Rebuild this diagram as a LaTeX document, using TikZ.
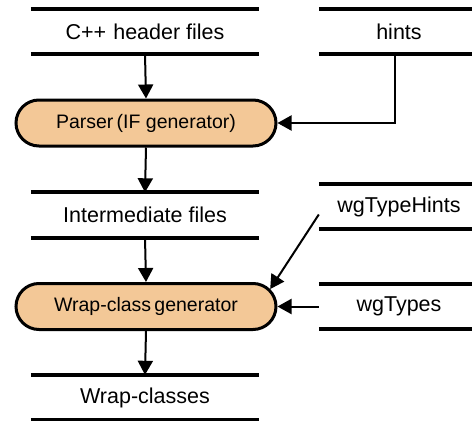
\documentclass[tikz,border=0pt]{standalone}
\usepackage{fontspec}
\setmainfont{Liberation Sans}
\usetikzlibrary{shapes.misc,arrows.meta}
\definecolor{procfill}{HTML}{F3C897}
\tikzset{
  store/.style={minimum height=45pt, inner sep=0pt, font=\fontsize{21.5}{24}\selectfont},
  bar/.style={line width=4pt},
  proc/.style={rounded rectangle, draw=black, line width=3pt, fill=procfill, minimum width=260pt, minimum height=46pt, inner sep=0pt, font=\fontsize{19.5}{22}\selectfont},
  arr/.style={line width=2pt, -{Triangle[length=14pt,width=15pt]}},
}
\begin{document}
\begin{tikzpicture}[x=1pt,y=-1pt]
\useasboundingbox (0,0) rectangle (472,421);
% data stores
\node[store, minimum width=228pt] (cpp) at (145,31.5) {C++\,\,header files};
\node[store, minimum width=160pt] (hints) at (399,31.5) {hints};
\node[store, minimum width=228pt] (inter) at (145,215) {Intermediate files};
\node[store, minimum width=160pt] (wth) at (399,206.5) {wgTypeHints};
\node[store, minimum width=160pt] (wgt) at (399,306.5) {wgTypes};
\node[store, minimum width=228pt] (wcls) at (145,397.5) {Wrap-classes};
\foreach \n in {cpp,hints,inter,wth,wgt,wcls}{
  \draw[bar] (\n.north west) -- (\n.north east);
  \draw[bar] (\n.south west) -- (\n.south east);
}
% processes
\node[proc] (parser) at (146,123) {Parser\,(IF generator)};
\node[proc] (wrap) at (146,306.5) {Wrap-class\,generator};
% connectors
\draw[arr] (cpp.south) -- (parser.north);
\draw[arr] ([xshift=-4pt]hints.south) |- (parser.east);
\draw[arr] (parser.south) -- (inter.north);
\draw[arr] (inter.south) -- (wrap.north);
\draw[arr] ([yshift=-8pt]wth.west) -- (wrap.8);
\draw[arr] (wgt.west) -- (wrap.east);
\draw[arr] (wrap.south) -- (wcls.north);
\end{tikzpicture}
\end{document}
